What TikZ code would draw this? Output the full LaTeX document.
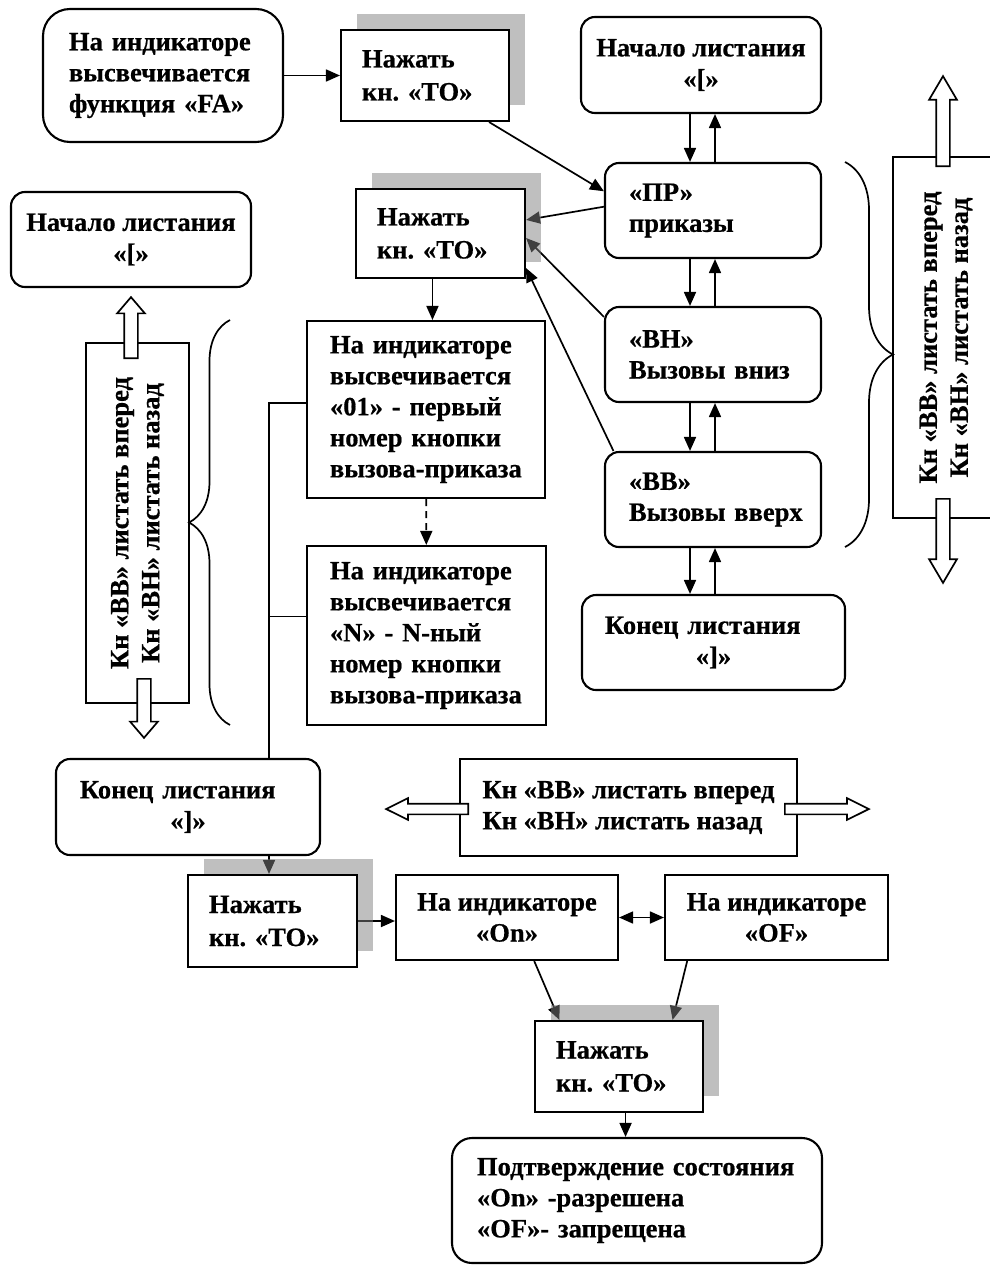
\documentclass[tikz,border=0pt]{standalone}
\usepackage{fontspec}
\setmainfont{Liberation Serif}[BoldFeatures={FakeBold=0.6}]
\usetikzlibrary{arrows.meta, shapes.arrows, shadows, decorations.pathreplacing, calc}
\pgfdeclarelayer{links}
\pgfsetlayers{links,main}
\definecolor{shadegray}{HTML}{808080}
\frenchspacing
\newcommand{\boxfont}{\fontsize{26.5}{31}\selectfont\bfseries}
\newcommand{\tofont}{\fontsize{26.5}{33}\selectfont\bfseries}
\tikzset{
  sbox/.style={rectangle, draw, line width=2.1pt, fill=white, font=\boxfont,
              inner sep=0pt, align=center},
  rbox/.style={sbox, rounded corners=14pt},
  tobox/.style={sbox, font=\tofont,
              drop shadow={shadow xshift=16pt, shadow yshift=16pt, fill=shadegray, opacity=.5}},
  lt/.style={align=left, text width=#1},
  link/.style={-{Triangle[length=14pt,width=12pt]}, line width=1.7pt},
  wire/.style={line width=1.7pt},
  fatarrow/.style={single arrow, draw, line width=1.7pt, fill=white, inner sep=6pt,
              minimum width=0pt, single arrow head extend=7pt, anchor=tail},
  brace/.style={decorate, decoration={brace, amplitude=#1}, line width=1.7pt},
}

\begin{document}
\begin{tikzpicture}[x=1pt,y=-1pt]
    \useasboundingbox (0,0) rectangle (990,1266);
    % top row
    \node[rbox, rounded corners=27pt, minimum width=240pt, minimum height=133pt, lt=188pt] (fa) at (163,75.5) {На индикаторе\\высвечивается\\функция «FA»};
    \node[tobox, minimum width=168pt, minimum height=91pt, lt=126pt] (to1) at (425,75.5) {Нажать\\кн. «ТО»};
    \node[rbox, minimum width=240pt, minimum height=96pt] (start1) at (701,65) {Начало листания\\«[»};
    % right column
    \node[rbox, minimum width=216pt, minimum height=95pt, lt=168pt] (pr) at (713,210.5) {«ПР»\\приказы};
    \node[rbox, minimum width=216pt, minimum height=95pt, lt=168pt] (vn) at (713,354.5) {«ВН»\\Вызовы~вниз};
    \node[rbox, minimum width=216pt, minimum height=95pt, lt=168pt] (vv) at (713,499.5) {«ВВ»\\Вызовы~вверх};
    \node[rbox, minimum width=263pt, minimum height=95pt, lt=217pt] (end1) at (713.5,642.5) {Конец листания\\\makebox[\linewidth]{«]»}};
    \node[sbox, rotate=90, minimum width=361pt, minimum height=106pt] (keys1) at (946,337.5) {Кн «ВВ» листать вперед\\Кн «ВН» листать назад};
    % left part
    \node[rbox, minimum width=240pt, minimum height=95pt] (start2) at (131,239.5) {Начало листания\\«[»};
    \node[sbox, rotate=90, minimum width=360pt, minimum height=103pt] (keys2) at (137.5,523) {Кн «ВВ» листать вперед\\Кн «ВН» листать назад};
    \node[tobox, minimum width=169pt, minimum height=89pt, lt=127pt] (to2) at (440.5,233.5) {Нажать\\кн. «ТО»};
    \node[sbox, minimum width=238pt, minimum height=177pt, lt=192pt] (first) at (426,409.5) {На индикаторе\\высвечивается\\«01» - первый\\номер кнопки\\вызова-приказа};
    \node[sbox, minimum width=239pt, minimum height=179pt, lt=193pt] (nth) at (426.5,635.5) {На индикаторе\\высвечивается\\«N» - N-ный\\номер кнопки\\вызова-приказа};
    \node[rbox, minimum width=264pt, minimum height=96pt, lt=216pt] (end2) at (188,807) {Конец листания\\\makebox[\linewidth]{«]»}};
    % bottom part
    \node[sbox, minimum width=337pt, minimum height=97pt, align=left] (keys3) at (628.5,807.5) {Кн «ВВ» листать вперед\\Кн «ВН» листать назад};
    \node[tobox, minimum width=169pt, minimum height=92pt, lt=127pt] (to3) at (272.5,921) {Нажать\\кн. «ТО»};
    \node[sbox, minimum width=222pt, minimum height=85pt] (on) at (507,917.5) {На индикаторе\\«On»};
    \node[sbox, minimum width=223pt, minimum height=85pt] (off) at (776.5,917.5) {На индикаторе\\«OF»};
    \node[tobox, minimum width=168pt, minimum height=91pt, lt=126pt] (to4) at (619,1066.5) {Нажать\\кн. «ТО»};
    \node[rbox, rounded corners=20pt, minimum width=370pt, minimum height=125pt, lt=320pt] (state) at (637,1200.5) {Подтверждение состояния\\«On» -разрешена\\«OF»- запрещена};
    % scroll arrows and braces
    \node[fatarrow, rotate=90, minimum height=90pt, single arrow tip angle=61] (up1) at (943,167) {};
    \node[fatarrow, rotate=-90, minimum height=84pt, single arrow tip angle=61] (down1) at (943,498) {};
    \node[fatarrow, rotate=90, minimum height=61pt, single arrow tip angle=81] (up2) at (131,359) {};
    \node[fatarrow, rotate=-90, minimum height=59pt, single arrow tip angle=81] (down2) at (144,678) {};
    \node[fatarrow, rotate=180, minimum height=82pt, inner sep=4.5pt, single arrow head extend=5.5pt, single arrow tip angle=53] (left3) at (469,809) {};
    \node[fatarrow, minimum height=84pt, inner sep=4.5pt, single arrow head extend=5.5pt, single arrow tip angle=53] (right3) at (784,809) {};
    \draw[brace=48pt] (845,162) -- (845,547);
    \draw[brace=41pt] (230,725) -- (230,320);
    \coordinate (dn) at (690,0);
    \coordinate (upw) at (715,0);
    \coordinate (bus) at (269,403);
    \begin{pgfonlayer}{links}
    \draw[link] (fa) -- (to1);
    \draw[link] (to1.-36) -- (pr.170);
    \draw[link] (pr.178) -- (to2.9);
    \draw[link] (vn.161) -- (to2.-3);
    \draw[link] (vv.154) -- (to2.-22);
    \draw[link] (start1.south -| dn) -- (pr.north -| dn);
    \draw[link] (pr.north -| upw) -- (start1.south -| upw);
    \draw[link] (pr.south -| dn) -- (vn.north -| dn);
    \draw[link] (vn.north -| upw) -- (pr.south -| upw);
    \draw[link] (vn.south -| dn) -- (vv.north -| dn);
    \draw[link] (vv.north -| upw) -- (vn.south -| upw);
    \draw[link] (vv.south -| dn) -- (end1.north -| dn);
    \draw[link] (end1.north -| upw) -- (vv.south -| upw);
    \draw[link] (to2.260) -- (to2.260 |- first.north);
    \draw[link, dash pattern=on 7pt off 5pt] (first) -- (nth);
    \draw[wire] (first.west |- bus) -- (bus) -- (bus |- end2.north);
    \draw[wire] (nth.171) -- (nth.171 -| bus);
    \draw[link] (bus |- end2.south) -- (bus |- to3.north);
    \draw[link] (to3.east) -- (to3.east -| on.west);
    \draw[{Triangle[length=14pt,width=12pt]}-{Triangle[length=14pt,width=12pt]}, line width=1.7pt] (on.east) -- (off.west);
    \draw[link] (on.-58.5) -- (to4.142);
    \draw[link] (off.206) -- (to4.41);
    \draw[link] (to4.278) -- (to4.278 |- state.north);
    \end{pgfonlayer}
\end{tikzpicture}
\end{document}
